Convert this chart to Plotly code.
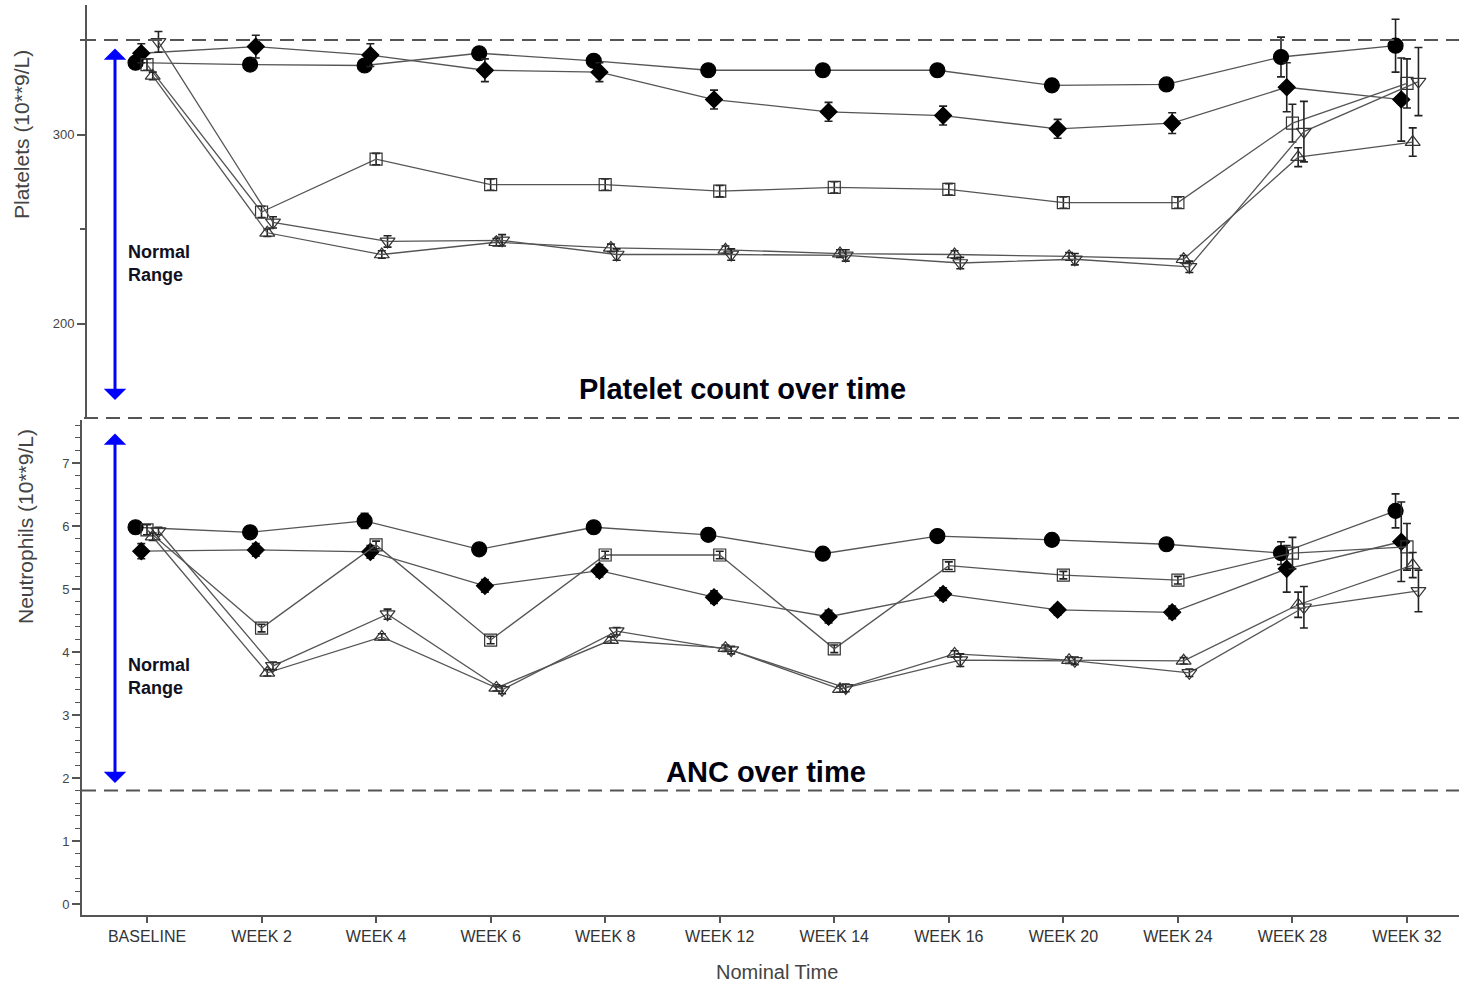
import plotly.graph_objects as go

W, H = 1459, 983

# ---------------- data ----------------
categories = ["BASELINE", "WEEK 2", "WEEK 4", "WEEK 6", "WEEK 8", "WEEK 12",
              "WEEK 14", "WEEK 16", "WEEK 20", "WEEK 24", "WEEK 28", "WEEK 32"]

plt_circle = [338, 337, 336.5, 343, 339, 334, 334, 334, 326, 326.5, 341, 347]
plt_circle_err = [2, 2, 2, 2, 2, 2, 2, 2, 2, 2, 10.5, 14]
plt_diamond = [343, 346.5, 342, 334, 333, 318.5, 312, 310, 303, 306, 325, 318.5]
plt_diamond_err = [5, 6, 6, 6, 5, 5, 5, 5, 5, 5.5, 13, 22]
plt_square = [337, 259, 287, 273.5, 273.5, 270, 272, 271, 264, 264, 306, 327]
plt_square_err = [3, 3, 3, 3, 3, 3, 3, 3, 3, 3, 10, 13]
plt_triup = [331, 248, 236.5, 243, 240, 239, 237, 236.5, 235.5, 234, 288, 296]
plt_triup_err = [2, 2, 2, 2, 2, 2, 2, 2, 2, 2, 5, 7.5]
plt_tridown = [349, 253.5, 243.4, 244, 236.5, 236.5, 236, 232, 234, 230, 301.5, 328]
plt_tridown_err = [5.5, 3, 3, 3, 3, 3, 3, 3, 3, 3, 16, 18]

anc_circle = [5.98, 5.90, 6.08, 5.63, 5.98, 5.86, 5.56, 5.84, 5.78, 5.71, 5.57, 6.24]
anc_circle_err = [0.05, 0.05, 0.12, 0.05, 0.05, 0.05, 0.05, 0.05, 0.05, 0.05, 0.18, 0.27]
anc_diamond = [5.60, 5.62, 5.59, 5.05, 5.29, 4.87, 4.56, 4.92, 4.67, 4.63, 5.32, 5.75]
anc_diamond_err = [0.12, 0.1, 0.1, 0.1, 0.1, 0.1, 0.1, 0.1, 0.08, 0.1, 0.37, 0.63]
anc_square = [5.94, 4.38, 5.70, 4.19, 5.54, 5.54, 4.05, 5.37, 5.22, 5.14, 5.57, 5.67]
anc_square_err = [0.08, 0.06, 0.06, 0.06, 0.06, 0.06, 0.06, 0.06, 0.06, 0.06, 0.25, 0.37]
anc_triup = [5.83, 3.67, 4.24, 3.43, 4.19, 4.06, 3.41, 3.97, 3.87, 3.86, 4.75, 5.38]
anc_triup_err = [0.06, 0.05, 0.05, 0.05, 0.05, 0.05, 0.05, 0.05, 0.05, 0.05, 0.2, 0.2]
anc_tridown = [5.92, 3.78, 4.60, 3.40, 4.33, 4.03, 3.43, 3.87, 3.86, 3.67, 4.71, 4.97]
anc_tridown_err = [0.06, 0.06, 0.08, 0.06, 0.06, 0.06, 0.06, 0.1, 0.06, 0.06, 0.33, 0.33]

# ---------------- styling ----------------
series_style = [
    # (symbol, size, x-offset)
    ("circle", 15, -0.10),
    ("diamond", 13, -0.05),
    ("square-open", 12, 0.0),
    ("triangle-up-open", 13, 0.05),
    ("triangle-down-open", 13, 0.10),
]
LINE = "#555555"
AX = "#555555"
TXT = "#444444"

top_series = [(plt_circle, plt_circle_err), (plt_diamond, plt_diamond_err),
              (plt_square, plt_square_err), (plt_triup, plt_triup_err),
              (plt_tridown, plt_tridown_err)]
bot_series = [(anc_circle, anc_circle_err), (anc_diamond, anc_diamond_err),
              (anc_square, anc_square_err), (anc_triup, anc_triup_err),
              (anc_tridown, anc_tridown_err)]

fig = go.Figure()
idx = list(range(len(categories)))


def add_series(data, xa, ya):
    for (vals, errs), (sym, size, off) in zip(data, series_style):
        filled = not sym.endswith("open")
        fig.add_trace(go.Scatter(
            x=[i + off for i in idx], y=vals,
            mode="lines+markers",
            line=dict(color=LINE, width=1.3),
            marker=dict(symbol=sym, size=size,
                        color="black" if filled else "#333333",
                        line=dict(color="black" if filled else "#333333", width=1.2)),
            error_y=dict(type="data", array=errs, visible=True,
                         color="#222222", thickness=1.6, width=4),
            xaxis=xa, yaxis=ya, showlegend=False, cliponaxis=False,
        ))


add_series(top_series, "x", "y")
add_series(bot_series, "x2", "y2")

spacing = (1407 - 147) / 11.0
x_right = 11 + (W - 1407) / spacing


def px(x):
    return x / W


def py(y):
    return 1 - y / H


fig.update_layout(
    width=W, height=H,
    margin=dict(l=0, r=0, t=0, b=0),
    paper_bgcolor="white", plot_bgcolor="white",
    font=dict(family="Arial, Liberation Sans, sans-serif", color=TXT),
    xaxis=dict(domain=[px(87), 1], range=[-(147 - 87) / spacing, x_right],
               visible=False, anchor="y"),
    yaxis=dict(domain=[py(418), py(5)], range=[150, 150 + (418 - 5) / 1.89],
               anchor="x", showline=True, linecolor=AX, linewidth=2,
               ticks="outside", ticklen=8, tickwidth=1.5, tickcolor=AX,
               tickvals=[200, 300], tickfont=dict(size=13, color=TXT),
               minor=dict(tickvals=[250, 350], ticklen=5, tickwidth=1.5, tickcolor=AX,
                          ticks="outside"),
               showgrid=False, zeroline=False),
    xaxis2=dict(domain=[px(82), 1], range=[-(147 - 82) / spacing, x_right],
                anchor="y2", showline=True, linecolor=AX, linewidth=2,
                ticks="outside", ticklen=6, tickwidth=1.5, tickcolor=AX,
                tickvals=idx, ticktext=categories,
                tickfont=dict(size=16, color="#333333"),
                showgrid=False, zeroline=False),
    yaxis2=dict(domain=[py(915), py(420)], range=[-(915 - 904) / 63.0, (904 - 420) / 63.0],
                anchor="x2", showline=True, linecolor=AX, linewidth=2,
                ticks="outside", ticklen=8, tickwidth=1.5, tickcolor=AX,
                tickvals=[0, 1, 2, 3, 4, 5, 6, 7], tickfont=dict(size=13, color=TXT),
                minor=dict(dtick=0.2, ticklen=5, tickwidth=1.2, tickcolor=AX,
                           ticks="outside"),
                showgrid=False, zeroline=False),
)

# dashed reference lines
dash = "14px,8px"
fig.add_shape(type="line", xref="paper", yref="y", x0=px(82), x1=1, y0=350, y1=350,
              line=dict(color="#555555", width=2, dash=dash))
fig.add_shape(type="line", xref="paper", yref="paper", x0=px(84), x1=1, y0=py(418), y1=py(418),
              line=dict(color="#555555", width=2, dash=dash))
fig.add_shape(type="line", xref="paper", yref="y2", x0=px(82), x1=1, y0=1.8, y1=1.8,
              line=dict(color="#555555", width=2, dash=dash))

# blue double arrows
for y_head, y_tail in [(400, 47), (783, 432)]:
    fig.add_annotation(xref="paper", yref="paper", x=px(115), y=py(y_head),
                       axref="pixel", ayref="pixel", ax=0, ay=-(y_head - y_tail),
                       text="", showarrow=True, arrowhead=1, arrowside="end+start",
                       arrowwidth=3, arrowsize=1.25, arrowcolor="#0000ff", standoff=0,
                       startstandoff=0)

# text labels
for y_txt in [263, 676]:
    fig.add_annotation(xref="paper", yref="paper", x=px(126), y=py(y_txt),
                       xanchor="left", yanchor="middle", align="left",
                       text="<b>Normal<br>Range</b>", showarrow=False,
                       font=dict(size=18, color="#111122", family="Arial, Liberation Sans"))

fig.add_annotation(xref="paper", yref="paper", x=px(742), y=py(389),
                   text="<b>Platelet count over time</b>", showarrow=False,
                   xanchor="center", yanchor="middle",
                   font=dict(size=29, color="#000011", family="Arial, Liberation Sans"))
fig.add_annotation(xref="paper", yref="paper", x=px(766), y=py(772),
                   text="<b>ANC over time</b>", showarrow=False,
                   xanchor="center", yanchor="middle",
                   font=dict(size=29, color="#000011", family="Arial, Liberation Sans"))

fig.add_annotation(xref="paper", yref="paper", x=px(22), y=py(135),
                   text="Platelets (10**9/L)", textangle=-90, showarrow=False,
                   xanchor="center", yanchor="middle",
                   font=dict(size=21, color=TXT))
fig.add_annotation(xref="paper", yref="paper", x=px(25), y=py(527),
                   text="Neutrophils (10**9/L)", textangle=-90, showarrow=False,
                   xanchor="center", yanchor="middle",
                   font=dict(size=21, color=TXT))
fig.add_annotation(xref="paper", yref="paper", x=px(777), y=py(972),
                   text="Nominal Time", showarrow=False,
                   xanchor="center", yanchor="middle",
                   font=dict(size=20, color=TXT))

fig.write_html("out.html", config={"displayModeBar": False},
               post_script="document.body.style.margin='0';")
